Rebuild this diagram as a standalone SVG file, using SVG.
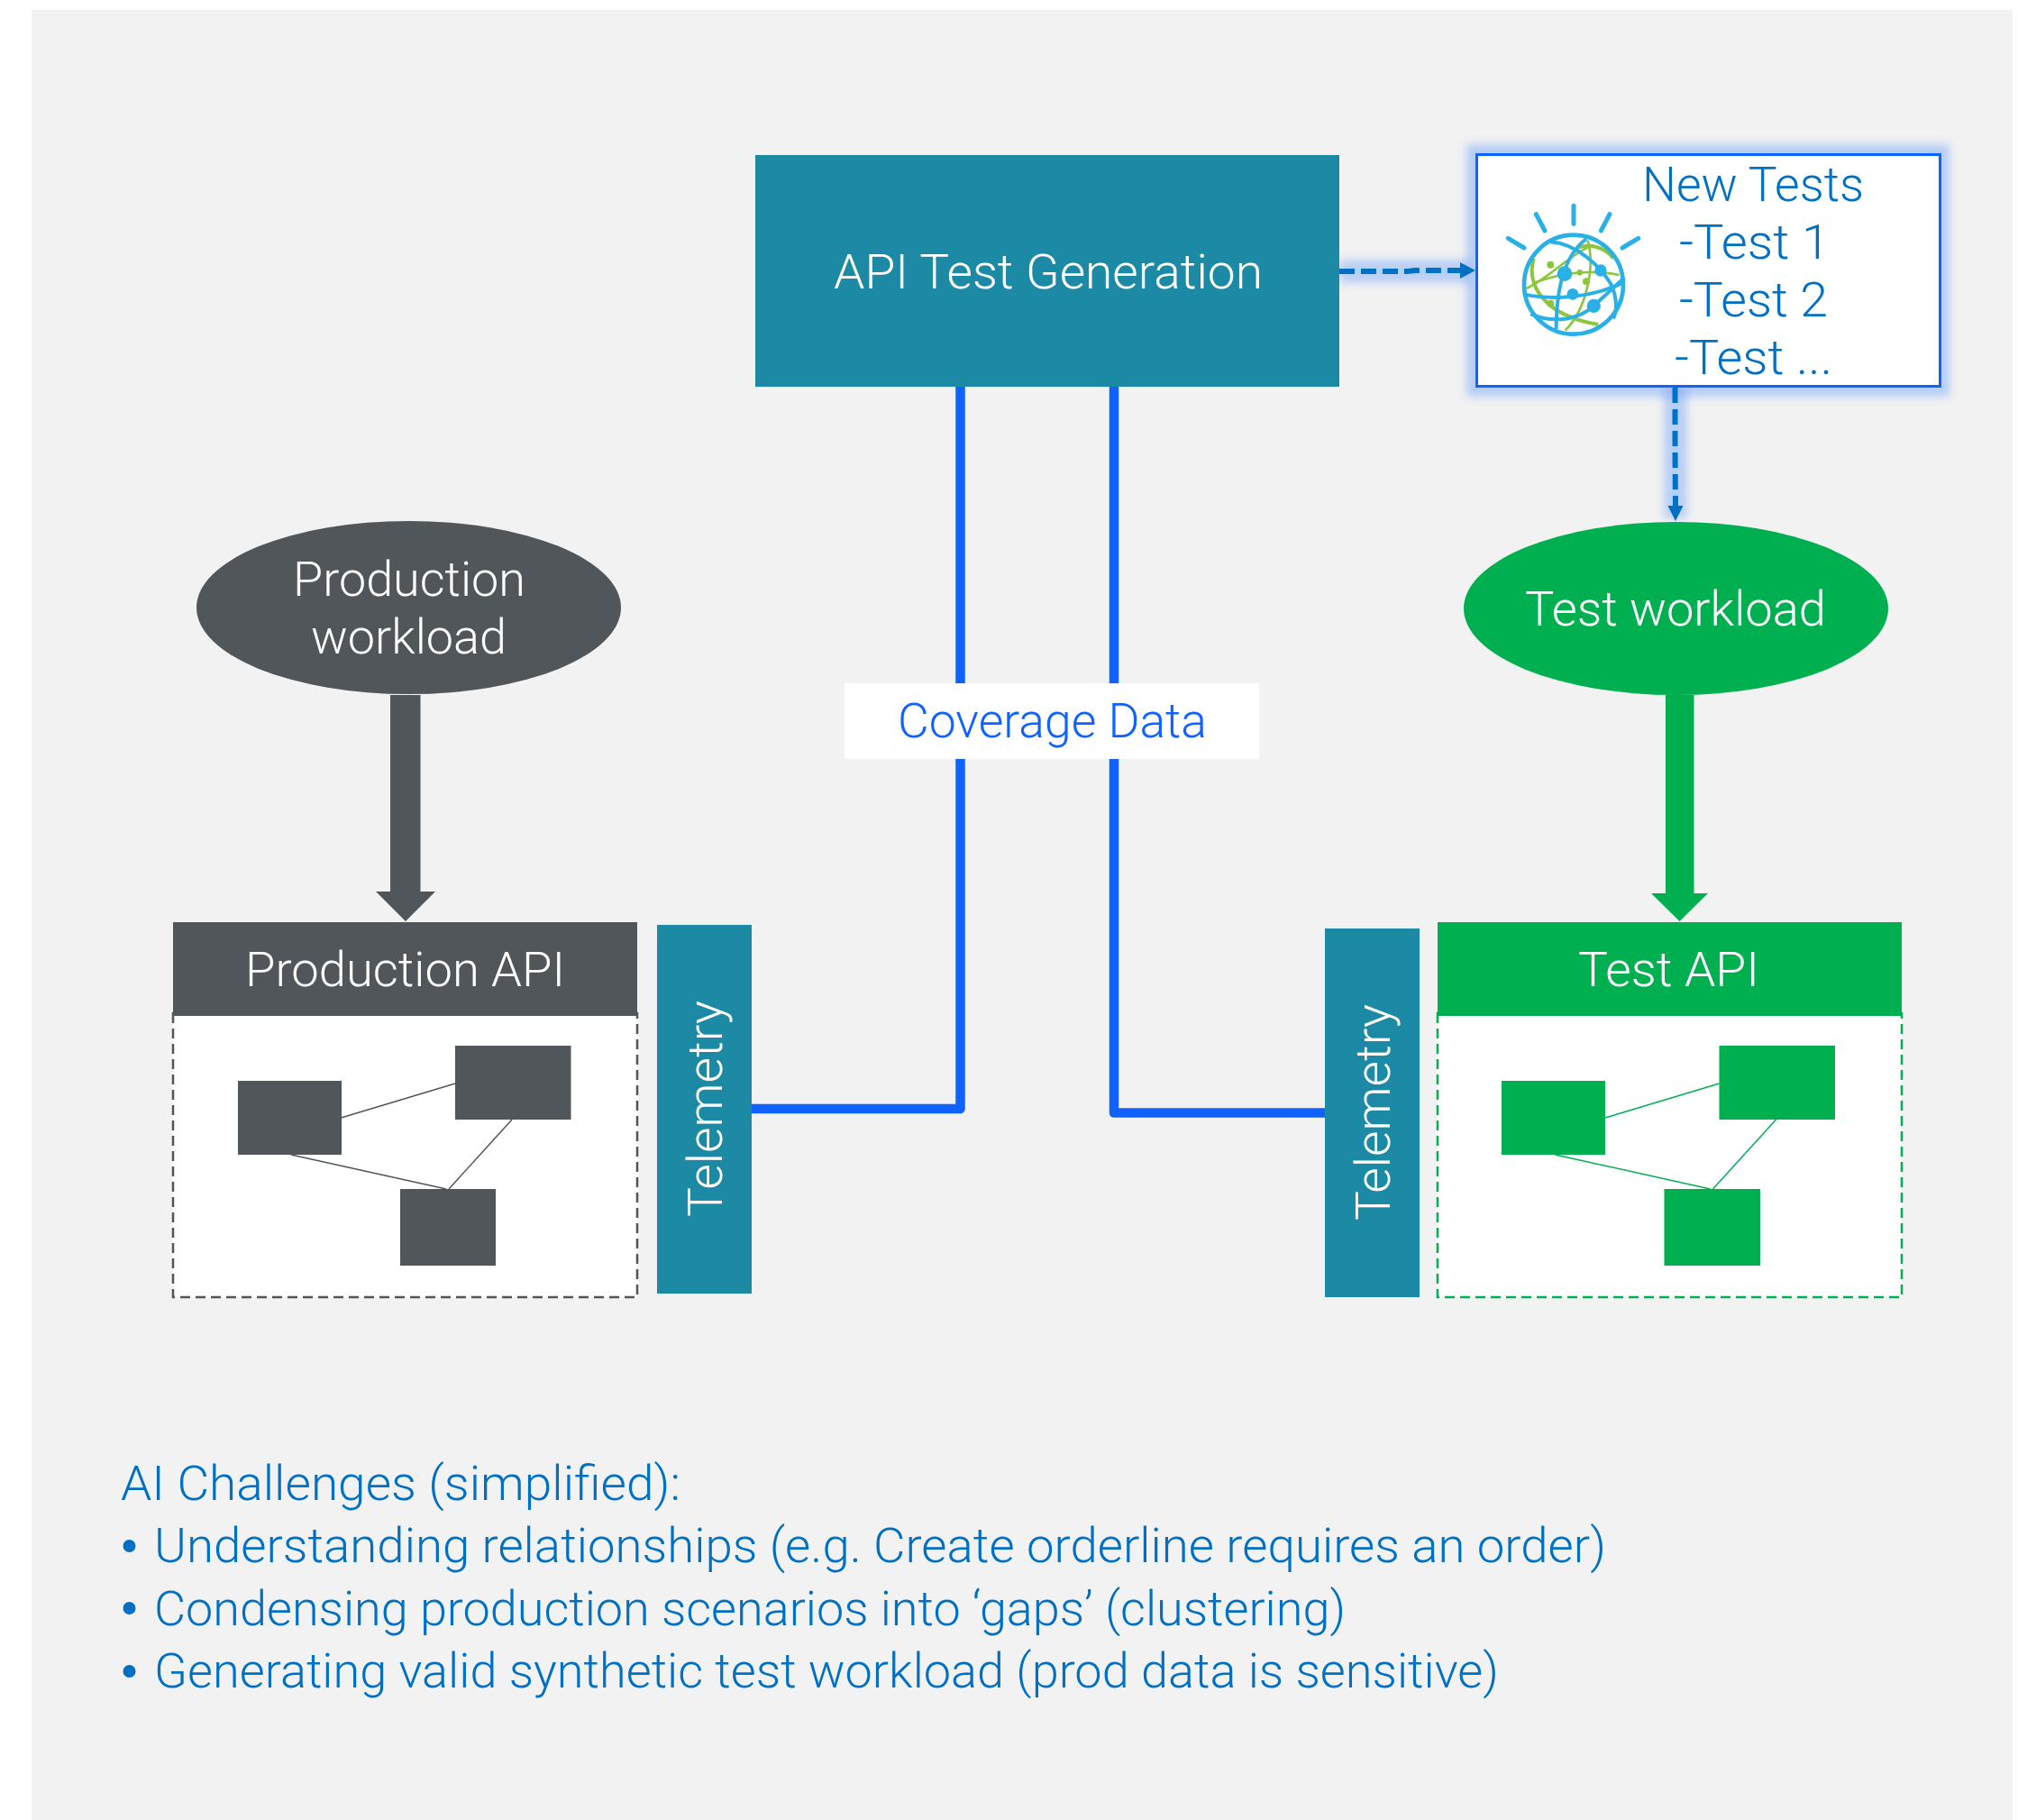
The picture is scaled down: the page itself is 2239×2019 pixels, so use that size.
<svg xmlns="http://www.w3.org/2000/svg" width="2239" height="2019" viewBox="0 0 2239 2019">
<style>
text{font-family:"Roboto","Liberation Sans",sans-serif;font-weight:300;font-size:54px}
.w{fill:#fff}.b{fill:#0070c4}.c{fill:#0f62fe}
.teal{fill:#1d8aa5}.dark{fill:#50565a}.green{fill:#00b050}
.thin-d{stroke:#50565a;stroke-width:1.5;fill:none}
.thin-g{stroke:#00b050;stroke-width:1.5;fill:none}
.wire{stroke:#0f62fe;stroke-width:10.5;fill:none;stroke-linejoin:round}
.dash{stroke:#0070c4;stroke-width:6;fill:none;stroke-dasharray:17 7}
.ga{stroke:#0f62fe;stroke-opacity:.24;stroke-width:26;fill:none}
.ray{stroke:#29b0e6;stroke-width:15;stroke-linecap:round;fill:none}
.bl{stroke:#29b0e6;stroke-width:12;fill:none}
.gr{stroke:#8cc63f;stroke-width:8;fill:none}
</style>
<defs><filter id="glow" x="-20%" y="-20%" width="140%" height="140%"><feGaussianBlur stdDeviation="5"/></filter></defs>
<rect width="2239" height="2019" fill="#fff"/>
<rect id="background" x="35" y="11" width="2198" height="2008" fill="#f2f2f2"/>

<g id="glows" filter="url(#glow)">
<rect x="1627" y="160" width="536" height="280" fill="#0f62fe" fill-opacity=".26"/>
<path class="ga" d="M1486 301H1630"/>
<path class="ga" d="M1859 430V575"/>
</g>

<g id="connectors">
<path class="wire" d="M1065.500 428V1230H834"/>
<path class="wire" d="M1236 428V1234.500H1470"/>
<path class="dash" d="M1486 301H1562L1570 300H1622"/>
<path fill="#0070c4" d="M1620 291L1637 300L1620 309Z"/>
<path class="dash" d="M1858.500 430V500L1859 562"/>
<path fill="#0070c4" d="M1850.500 561H1867.500L1859 578Z"/>
<path class="dark" d="M433 771H466.500V989H483L450 1022L417 989H433Z"/>
<path class="green" d="M1848 771H1879.500V991H1895L1863.500 1022L1832 991H1848Z"/>
</g>

<g id="api-test-generation">
<rect class="teal" x="838" y="172" width="648" height="257"/>
<text class="w" x="925" y="320" textLength="476" lengthAdjust="spacingAndGlyphs">API Test Generation</text>
</g>

<g id="new-tests">
<rect x="1638.500" y="171.500" width="514" height="257" fill="#fff" stroke="#0f62fe" stroke-width="3"/>
<text class="b" x="1822" y="223" textLength="246" lengthAdjust="spacingAndGlyphs">New Tests</text>
<text class="b" x="1863" y="287" textLength="167" lengthAdjust="spacingAndGlyphs">-Test 1</text>
<text class="b" x="1863" y="351" textLength="165" lengthAdjust="spacingAndGlyphs">-Test 2</text>
<text class="b" x="1858" y="415" textLength="175" lengthAdjust="spacingAndGlyphs">-Test ...</text>
<g id="watson-logo" transform="translate(1640 210) scale(.33333)">
<path class="ray" d="M100 163L153 195M193 83L222 138M318 55V115M438 83L409 138M533 163L480 195"/>
<g class="gr">
<path d="M160 330C230 300 290 230 370 190"/>
<path d="M365 170C390 260 360 400 290 470"/>
<path d="M470 285C400 270 300 270 190 310"/>
<path d="M185 230C160 320 220 420 400 450" stroke-width="12"/>
<path d="M330 195C370 180 420 190 450 230" stroke-width="12"/>
</g>
<g fill="#8cc63f"><circle cx="241" cy="251" r="12"/><circle cx="338" cy="277" r="10"/><circle cx="360" cy="307" r="12"/><circle cx="241" cy="380" r="12"/></g>
<g class="bl">
<path d="M360 165C300 210 260 300 260 465"/>
<path d="M155 350C250 370 380 360 485 310"/>
<path d="M240 175C330 180 410 260 445 320C460 360 465 400 450 430"/>
<path d="M175 415C260 450 340 430 385 388L480 300"/>
</g>
<g fill="#29b0e6"><circle cx="288" cy="281" r="25"/><circle cx="408" cy="270" r="20"/><circle cx="315" cy="349" r="19"/><circle cx="385" cy="388" r="23"/></g>
<circle cx="318" cy="317" r="165" fill="none" stroke="#29b0e6" stroke-width="14"/>
</g>
</g>

<g id="production-workload">
<ellipse class="dark" cx="453.500" cy="674" rx="235.500" ry="96"/>
<text class="w" x="325" y="661" textLength="258" lengthAdjust="spacingAndGlyphs">Production</text>
<text class="w" x="345" y="725" textLength="217" lengthAdjust="spacingAndGlyphs">workload</text>
</g>

<g id="test-workload">
<ellipse class="green" cx="1859.500" cy="675" rx="235.500" ry="96"/>
<text class="w" x="1692" y="694" textLength="334" lengthAdjust="spacingAndGlyphs">Test workload</text>
</g>

<g id="coverage-data">
<rect x="937" y="758" width="460" height="84" fill="#fff"/>
<text class="c" x="996" y="818" textLength="343" lengthAdjust="spacingAndGlyphs">Coverage Data</text>
</g>

<g id="production-api">
<rect x="192" y="1124" width="515" height="315" fill="#fff" stroke="#50565a" stroke-width="2.500" stroke-dasharray="11 6"/>
<rect class="dark" x="192" y="1023" width="515" height="104"/>
<text class="w" x="272" y="1094" textLength="355" lengthAdjust="spacingAndGlyphs">Production API</text>
<path class="thin-d" d="M378.500 1240L505 1202M568 1242L498 1319M323 1281L495 1319"/>
<rect class="dark" x="264" y="1199" width="115" height="82"/>
<rect class="dark" x="505" y="1160" width="128.500" height="82"/>
<rect class="dark" x="444" y="1319" width="106" height="85"/>
</g>

<g id="telemetry-production">
<rect class="teal" x="729" y="1026" width="105" height="409"/>
<text class="w" transform="translate(801 1350) rotate(-90)" textLength="240" lengthAdjust="spacingAndGlyphs">Telemetry</text>
</g>

<g id="test-api">
<rect x="1595" y="1124" width="515" height="315" fill="#fff" stroke="#00b050" stroke-width="2.500" stroke-dasharray="11 6"/>
<rect class="green" x="1595" y="1023" width="515" height="104"/>
<text class="w" x="1751" y="1094" textLength="201" lengthAdjust="spacingAndGlyphs">Test API</text>
<path class="thin-g" d="M1781 1240L1907.500 1202M1970.500 1242L1900.500 1319M1725.500 1281L1897.500 1319"/>
<rect class="green" x="1666" y="1199" width="115" height="82"/>
<rect class="green" x="1907.500" y="1160" width="128.500" height="82"/>
<rect class="green" x="1846.500" y="1319" width="106.500" height="85"/>
</g>

<g id="telemetry-test">
<rect class="teal" x="1470" y="1030" width="105" height="409"/>
<text class="w" transform="translate(1541.500 1354) rotate(-90)" textLength="240" lengthAdjust="spacingAndGlyphs">Telemetry</text>
</g>

<g id="ai-challenges">
<text class="b" x="134" y="1664" textLength="621" lengthAdjust="spacingAndGlyphs">AI Challenges (simplified):</text>
<circle class="b" cx="143.500" cy="1715" r="7"/>
<text class="b" x="171" y="1733" textLength="1611" lengthAdjust="spacingAndGlyphs">Understanding relationships (e.g. Create orderline requires an order)</text>
<circle class="b" cx="143.500" cy="1784" r="7"/>
<text class="b" x="171" y="1803" textLength="1322" lengthAdjust="spacingAndGlyphs">Condensing production scenarios into ‘gaps’ (clustering)</text>
<circle class="b" cx="143.500" cy="1854" r="7"/>
<text class="b" x="171" y="1872" textLength="1492" lengthAdjust="spacingAndGlyphs">Generating valid synthetic test workload (prod data is sensitive)</text>
</g>
</svg>
